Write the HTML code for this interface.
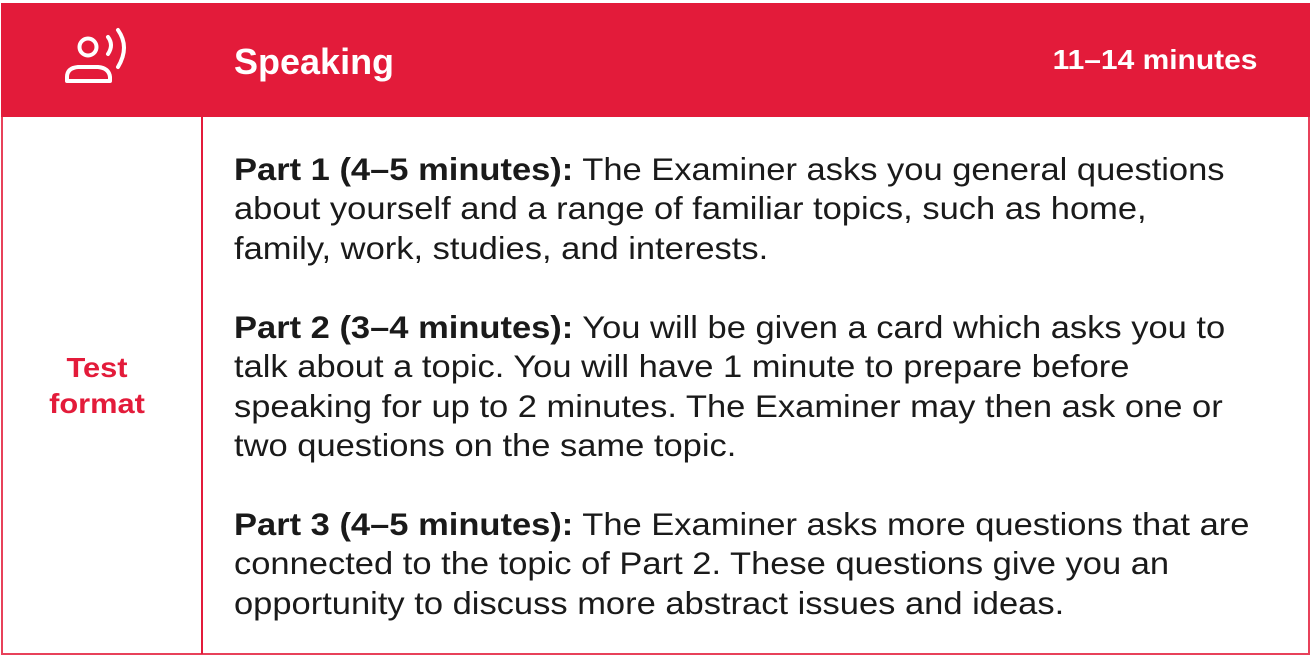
<!DOCTYPE html>
<html><head><meta charset="utf-8"><style>
body{margin:0;width:1314px;height:657px;background:#fff;overflow:hidden;font-family:"Liberation Sans",sans-serif;}
.card{position:absolute;left:1px;top:3px;width:1309px;height:652px;border:2px solid #e8415a;box-sizing:border-box;}
.head{position:absolute;left:1px;top:3px;width:1309px;height:114px;background:#e31b3a;}
.div{position:absolute;left:201px;top:117px;width:2px;height:537px;background:#e31b3a;}
.t{position:absolute;white-space:nowrap;}
.p{position:absolute;left:234px;font-size:31.5px;line-height:39.3px;color:#1a1a1a;white-space:nowrap;transform:scaleX(1.095);transform-origin:0 0;}
b{font-weight:bold;}
</style></head><body>
<div class="card"></div>
<div class="head"></div>
<div class="div"></div>
<svg style="position:absolute;left:60px;top:25px" width="80" height="65" viewBox="0 0 80 65">
<circle cx="28" cy="22" r="8.5" fill="none" stroke="#fff" stroke-width="4"/>
<path d="M7 56 V52 Q7 43 18 42 H38 Q49 43 50 52 V56 Z" fill="none" stroke="#fff" stroke-width="4" stroke-linejoin="round"/>
<path d="M48 12 Q54 20 48 29" fill="none" stroke="#fff" stroke-width="4" stroke-linecap="round"/>
<path d="M58 5 Q70 22 58 42" fill="none" stroke="#fff" stroke-width="4" stroke-linecap="round"/>
</svg>
<div class="t" style="left:234px;top:41px;font-size:36px;font-weight:bold;color:#fff">Speaking</div>
<div class="t" style="right:57px;top:44px;font-size:28px;font-weight:bold;color:#fff;transform:scaleX(1.07);transform-origin:100% 0">11–14 minutes</div>
<div class="t" style="left:0px;width:194px;text-align:center;top:350px;font-size:28px;line-height:36px;font-weight:bold;color:#e31b3a;white-space:normal;transform:scaleX(1.1);transform-origin:97px 0">Test<br>format</div>
<div class="p" style="top:150px"><b>Part 1 (4–5 minutes):</b> The Examiner asks you general questions<br>about yourself and a range of familiar topics, such as home,<br>family, work, studies, and interests.</div>
<div class="p" style="top:308px"><b>Part 2 (3–4 minutes):</b> You will be given a card which asks you to<br>talk about a topic. You will have 1 minute to prepare before<br>speaking for up to 2 minutes. The Examiner may then ask one or<br>two questions on the same topic.</div>
<div class="p" style="top:505px"><b>Part 3 (4–5 minutes):</b> The Examiner asks more questions that are<br>connected to the topic of Part 2. These questions give you an<br>opportunity to discuss more abstract issues and ideas.</div>
</body></html>
